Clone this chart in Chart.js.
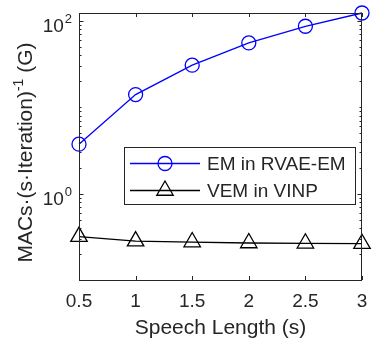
<!DOCTYPE html>
<html lang="en">
<head>
<meta charset="UTF-8">
<title>MACs per second per iteration</title>
<style>
    * { margin: 0; padding: 0; box-sizing: border-box; }
    body { background: #fff; }
</style>
</head>
<body>
<canvas id="macsChart" width="382" height="347"></canvas>

<script src="https://cdn.jsdelivr.net/npm/chart.js"></script>
<script>
    // data
    const speechLengths = [0.5, 1, 1.5, 2, 2.5, 3];
    const emRvae = [3.73, 14.0, 30.6, 55.4, 86.4, 123];
    const vemVinp = [0.318, 0.282, 0.275, 0.268, 0.266, 0.263];
    const seriesNames = ['EM in RVAE-EM', 'VEM in VINP'];
    const xTicks = [0.5, 1, 1.5, 2, 2.5, 3];
    const yTickExps = [0, 2];

    const FONT = "'Liberation Sans', Arial, Helvetica, sans-serif";
    const AXIS = '#262626';

    function toPoints(vals) {
        return speechLengths.map((x, i) => ({ x: x, y: vals[i] }));
    }

    // box, inward ticks, y labels with superscripts, y title, legend
    const matlabLook = {
        id: 'matlabLook',
        afterDraw(chart) {
            const ctx = chart.ctx;
            const a = chart.chartArea;
            const xs = chart.scales.x, ys = chart.scales.y;
            ctx.save();
            ctx.strokeStyle = AXIS;
            ctx.lineWidth = 1;

            // axes box
            ctx.strokeRect(a.left + 0.5, a.top + 0.5, a.right - a.left - 1, a.bottom - a.top);

            ctx.beginPath();
            xTicks.forEach(v => {
                const x = Math.round(xs.getPixelForValue(v)) + 0.5;
                ctx.moveTo(x, a.bottom); ctx.lineTo(x, a.bottom - 4);
                ctx.moveTo(x, a.top); ctx.lineTo(x, a.top + 4);
            });
            for (let e = -1; e <= 2; e++) {
                for (let k = 1; k <= 9; k++) {
                    const v = k * Math.pow(10, e);
                    if (v < ys.min || v > ys.max) continue;
                    const y = Math.round(ys.getPixelForValue(v)) + 0.5;
                    const len = (k === 1 && yTickExps.includes(e)) ? 4.5 : 2.5;
                    ctx.moveTo(a.left, y); ctx.lineTo(a.left + len, y);
                    ctx.moveTo(a.right, y); ctx.lineTo(a.right - len, y);
                }
            }
            ctx.stroke();

            // y tick labels 10^n
            ctx.fillStyle = AXIS;
            ctx.textBaseline = 'alphabetic';
            ctx.textAlign = 'left';
            yTickExps.forEach(e => {
                const y = ys.getPixelForValue(Math.pow(10, e));
                ctx.font = '19px ' + FONT;
                const wBase = ctx.measureText('10').width;
                ctx.font = '13px ' + FONT;
                const wSup = ctx.measureText(String(e)).width;
                const x0 = a.left - 8 - wBase - wSup;
                ctx.font = '19px ' + FONT;
                ctx.fillText('10', x0, y + 11);
                ctx.font = '13px ' + FONT;
                ctx.fillText(String(e), x0 + wBase + 1, y + 2);
            });

            // y title with superscript -1
            const parts = [
                { t: 'MACs\u00b7(s\u00b7Iteration)', f: '21px ' + FONT, dy: 0 },
                { t: '-1', f: '14px ' + FONT, dy: -9 },
                { t: ' (G)', f: '21px ' + FONT, dy: 0 }
            ];
            let total = 0;
            parts.forEach(p => { ctx.font = p.f; p.w = ctx.measureText(p.t).width; total += p.w; });
            ctx.translate(32, (a.top + a.bottom) / 2 + 6);
            ctx.rotate(-Math.PI / 2);
            let cx = -total / 2;
            parts.forEach(p => {
                ctx.font = p.f;
                ctx.fillText(p.t, cx, p.dy);
                cx += p.w;
            });
            ctx.setTransform(1, 0, 0, 1, 0, 0);

            // legend
            const box = { l: 124, t: 147, r: 355, b: 204 };
            ctx.fillStyle = '#fff';
            ctx.fillRect(box.l, box.t, box.r - box.l, box.b - box.t);
            ctx.strokeStyle = AXIS;
            ctx.lineWidth = 1;
            ctx.strokeRect(box.l + 0.5, box.t + 0.5, box.r - box.l, box.b - box.t);
            const rows = [163.5, 190.5];
            chart.data.datasets.forEach((ds, i) => {
                const y = rows[i];
                ctx.strokeStyle = ds.borderColor;
                ctx.lineWidth = ds.borderWidth;
                ctx.beginPath();
                ctx.moveTo(130, y); ctx.lineTo(200, y);
                ctx.stroke();
                ctx.fillStyle = 'rgba(0,0,0,0)';
                ctx.strokeStyle = ds.pointBorderColor;
                ctx.lineWidth = ds.pointBorderWidth;
                Chart.helpers.drawPoint(ctx, {
                    pointStyle: ds.pointStyle,
                    radius: ds.pointRadius,
                    borderWidth: ds.pointBorderWidth,
                    rotation: 0
                }, 165, y);
                ctx.fillStyle = AXIS;
                ctx.font = '19px ' + FONT;
                ctx.textBaseline = 'middle';
                ctx.fillText(ds.label, 207, y + 1);
            });
            ctx.restore();
        }
    };

    const ctx = document.getElementById('macsChart').getContext('2d');
    new Chart(ctx, {
        type: 'line',
        data: {
            datasets: [
                {
                    label: seriesNames[0],
                    data: toPoints(emRvae),
                    borderColor: '#0000ff',
                    backgroundColor: '#ffffff',
                    borderWidth: 1.3,
                    pointStyle: 'circle',
                    pointRadius: 7,
                    pointBorderWidth: 1.3,
                    pointBackgroundColor: 'rgba(0,0,0,0)',
                    pointBorderColor: '#0000ff',
                    tension: 0,
                    clip: false
                },
                {
                    label: seriesNames[1],
                    data: toPoints(vemVinp),
                    borderColor: '#000000',
                    backgroundColor: '#ffffff',
                    borderWidth: 1.3,
                    pointStyle: 'triangle',
                    pointRadius: 9.5,
                    pointBorderWidth: 1.3,
                    pointBackgroundColor: 'rgba(0,0,0,0)',
                    pointBorderColor: '#000000',
                    tension: 0,
                    clip: false
                }
            ]
        },
        options: {
            responsive: false,
            animation: false,
            devicePixelRatio: 1,
            layout: { padding: { top: 13, right: 20, left: 0, bottom: 0 } },
            plugins: {
                legend: { display: false },
                tooltip: { enabled: false }
            },
            scales: {
                x: {
                    type: 'linear',
                    min: 0.5,
                    max: 3,
                    afterBuildTicks: s => { s.ticks = xTicks.map(v => ({ value: v })); },
                    afterFit: s => { s.height = 67; },
                    grid: { display: false, drawTicks: false },
                    border: { display: false },
                    ticks: {
                        padding: 10,
                        color: AXIS,
                        font: { family: FONT, size: 19 },
                        maxRotation: 0,
                        autoSkip: false,
                        callback: v => String(v)
                    },
                    title: {
                        display: true,
                        text: 'Speech Length (s)',
                        color: AXIS,
                        font: { family: FONT, size: 21 },
                        padding: { top: 0, bottom: 6 }
                    }
                },
                y: {
                    type: 'logarithmic',
                    min: 0.1,
                    max: 123,
                    afterFit: s => { s.width = 79; },
                    grid: { display: false, drawTicks: false },
                    border: { display: false },
                    ticks: { display: false }
                }
            }
        },
        plugins: [matlabLook]
    });
</script>
</body>
</html>
